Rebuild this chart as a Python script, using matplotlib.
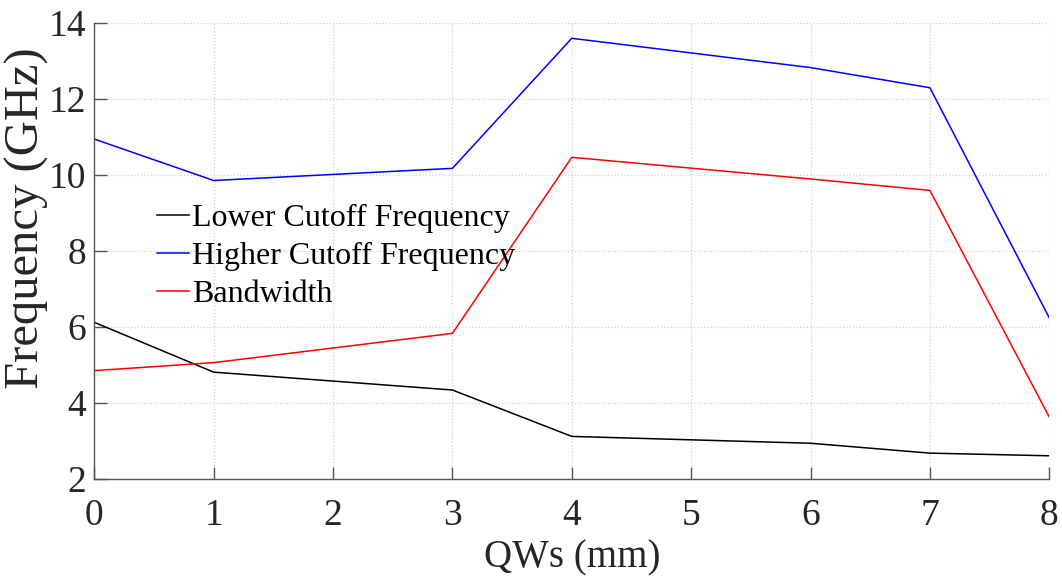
import matplotlib.pyplot as plt

# values
qws = [0, 1, 3, 4, 6, 7, 8]
lower_cutoff = [6.12, 4.81, 4.34, 3.12, 2.94, 2.68, 2.61]
higher_cutoff = [10.94, 9.85, 10.17, 13.59, 12.82, 12.29, 6.24]
bandwidth = [4.85, 5.06, 5.83, 10.46, 9.89, 9.59, 3.63]

plt.rcParams['font.family'] = ['Liberation Serif', 'DejaVu Serif']

fig = plt.figure(figsize=(10.62, 5.78), dpi=100)
ax = fig.add_axes([0.0888, 0.1713, 0.8992, 0.7894])

ax.plot(qws, lower_cutoff, color='black', lw=1.1, label='Lower Cutoff Frequency')
ax.plot(qws, higher_cutoff, color='blue', lw=1.1, label='Higher Cutoff Frequency')
ax.plot(qws, bandwidth, color='red', lw=1.1, label='Bandwidth')

ax.set_xlim(0, 8)
ax.set_ylim(2, 14)
ax.set_xticks(range(0, 9))
ax.set_yticks(range(2, 15, 2))

ax.grid(True, linestyle=':', color='#d0d0d0', lw=0.9)
ax.set_axisbelow(True)

for s in ['top', 'right']:
    ax.spines[s].set_visible(False)
for s in ['left', 'bottom']:
    ax.spines[s].set_color('#555555')
    ax.spines[s].set_linewidth(1.0)

ax.tick_params(direction='in', length=9, width=1, color='#555555',
               labelsize=27, labelcolor='#262626', pad=6)
ax.tick_params(axis='x', pad=14)

ax.set_xlabel('QWs (mm)', fontsize=28, color='#262626', labelpad=5)
ax.set_ylabel('Frequency (GHz)', fontsize=35, color='#262626')
ax.yaxis.set_label_coords(-0.047, 0.572)

leg = ax.legend(loc='upper left', bbox_to_anchor=(0.052, 0.631), frameon=False,
                fontsize=23, handlelength=1.0, handletextpad=0.1,
                labelspacing=0.265, borderaxespad=0)

plt.savefig('out.png', dpi=100)
